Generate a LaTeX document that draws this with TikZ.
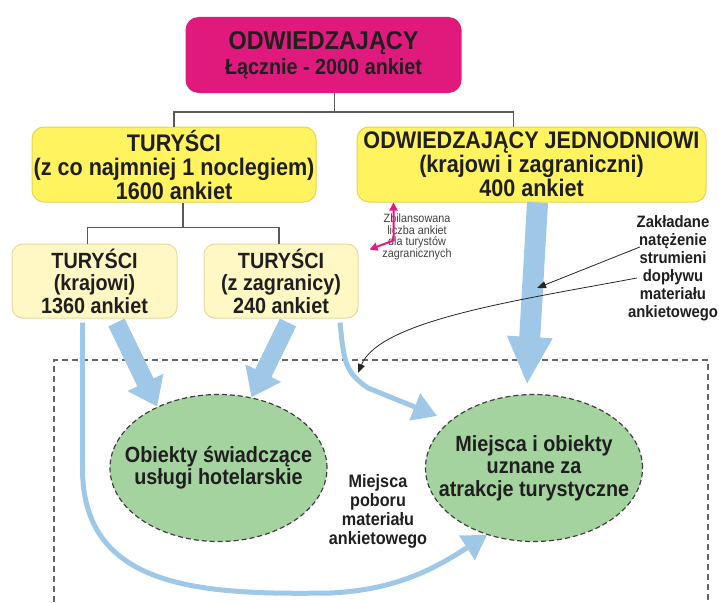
\documentclass[tikz,border=0pt]{standalone}
\usepackage{fontspec}
\setmainfont{Liberation Sans}[FakeStretch=0.9]
\usetikzlibrary{arrows.meta, shapes.geometric}
\definecolor{visitmagenta}{HTML}{DF1A7C}
\definecolor{touryellow}{HTML}{FFF45F}
\definecolor{touredge}{HTML}{E4D650}
\definecolor{paleyellow}{HTML}{FFF7C4}
\definecolor{paleedge}{HTML}{E6DA9E}
\definecolor{placegreen}{HTML}{A5D3A0}
\definecolor{flowblue}{HTML}{9FC8E8}
\definecolor{pointmagenta}{HTML}{E3197F}

\begin{document}
\begin{tikzpicture}[x=1pt, y=-1pt, text=black!88,
        topbox/.style={rectangle, rounded corners=13pt, fill=visitmagenta, minimum width=276pt, minimum height=76pt, inner sep=0pt, align=center, font=\fontsize{26}{25}\selectfont\bfseries},
        bigbox/.style={rectangle, rounded corners=12pt, fill=touryellow, draw=touredge, line width=1pt, minimum width=284pt, minimum height=75pt, inner sep=0pt, align=center, font=\fontsize{24}{24}\selectfont\bfseries},
        smallbox/.style={rectangle, rounded corners=11pt, fill=paleyellow, draw=paleedge, line width=1pt, minimum width=165pt, minimum height=74pt, inner sep=0pt, align=center, font=\fontsize{22}{22.5}\selectfont\bfseries},
        place/.style={ellipse, fill=placegreen, draw=black!75, line width=1.2pt, dash pattern=on 5pt off 3pt, minimum width=217pt, minimum height=147pt, inner xsep=-22pt, inner ysep=0pt, align=center, font=\fontsize{22}{22.5}\selectfont\bfseries},
        note/.style={inner sep=0pt, align=center, font=\fontsize{16.5}{18}\selectfont\bfseries},
        tinynote/.style={inner sep=0pt, align=center, text=black!75, font=\fontsize{12}{11.5}\selectfont},
        tree/.style={draw=black!65, line width=1.5pt},
        frame/.style={draw=black!60, line width=1.2pt, dash pattern=on 6pt off 4pt},
        flow/.style={draw=flowblue, line width=18pt, -{Triangle[width=38pt,length=27pt]}},
        flowbig/.style={draw=flowblue, line width=21pt, -{Triangle[width=42pt,length=48pt]}},
        flowthin/.style={draw=flowblue, line width=5pt, -{Triangle[width=28pt,length=24pt]}},
        pointer/.style={draw=black!85, line width=0.8pt, -{Triangle[width=7pt,length=9pt]}},
        balance/.style={draw=pointmagenta, line width=2pt, {Triangle[width=8pt,length=8pt]}-{Triangle[width=8pt,length=8pt]}}]
        \useasboundingbox (0,0) rectangle (719,602);

        % Survey area
        \draw[frame] (54,602) -- (54,360) -- (708,360) -- (708,602);

        % Visitor groups
        \node[topbox] (visitors) at (323.5,55) {ODWIEDZAJĄCY\\{\fontsize{22}{24}\selectfont Łącznie - 2000 ankiet}};
        \node[bigbox] (tourists) at (174,164.5) {TURYŚCI\\(z co najmniej 1 noclegiem)\\1600 ankiet};
        \node[bigbox, minimum width=349pt] (dayvisitors) at (531.5,164.5) {ODWIEDZAJĄCY JEDNODNIOWI\\(krajowi i zagraniczni)\\400 ankiet};
        \node[smallbox] (domestic) at (94.5,281) {TURYŚCI\\(krajowi)\\1360 ankiet};
        \node[smallbox, minimum width=154pt] (foreign) at (281,281) {TURYŚCI\\(z zagranicy)\\240 ankiet};

        % Places of sampling
        \node[place] (hotels) at (218.5,468) {Obiekty świadczące\\usługi hotelarskie};
        \node[place] (attractions) at (534,468) {Miejsca i obiekty\\uznane za\\atrakcje turystyczne};

        % Annotations
        \node[note, font=\fontsize{18}{19}\selectfont\bfseries] (sampling) at (378,511) {Miejsca\\poboru\\materiału\\ankietowego};
        \node[note] (flowsnote) at (673,268) {Zakładane\\natężenie\\strumieni\\dopływu\\materiału\\ankietowego};
        \node[tinynote] (balancenote) at (417,237) {Zbilansowana\\liczba ankiet\\dla turystów\\zagranicznych};

        % Tree connectors
        \draw[tree] ([xshift=11pt]visitors.south) -- ++(0,19) coordinate (split) -| (tourists.north);
        \draw[tree] (split) -| ([xshift=-18pt]dayvisitors.north);
        \draw[tree] ([xshift=9pt]tourists.south) -- ++(0,25) coordinate (split2) -| ([xshift=-7pt]domestic.north);
        \draw[tree] (split2) -| ([xshift=-2pt]foreign.north);

        % Survey flows
        \draw[flow] ([xshift=22pt,yshift=-4pt]domestic.south) -- (hotels.135);
        \draw[flow] ([xshift=7pt,yshift=-4pt]foreign.south) -- (hotels.65);
        \draw[flowbig] ([xshift=6pt]dayvisitors.south) -- ([xshift=-7pt,yshift=9pt]attractions.north);
        \draw[flowthin] ([xshift=-12pt,yshift=-4pt]domestic.south) -- ++(0,146) .. controls +(0,120) and (200,595) .. (330,593) .. controls (400,590) and (440,565) .. (attractions.235);
        \draw[flowthin] ([xshift=59pt,yshift=-4pt]foreign.south) .. controls +(4,40) and (345,372) .. (368,388) -- ([xshift=-97pt,yshift=52pt]attractions.center);

        % Pointers
        \coordinate (streammark) at (537,288);
        \coordinate (bendmark) at (358,373);
        \draw[pointer] ([xshift=12pt,yshift=21pt]flowsnote.west) -- (streammark);
        \draw[pointer] ([xshift=9pt,yshift=-10pt]flowsnote.west) .. controls (520,300) and (380,320) .. (bendmark);
        \draw[balance] ([xshift=37pt]dayvisitors.south west) -- ++(0,38) coordinate (kink) -- ([xshift=11pt,yshift=-6pt]foreign.north east);
    \end{tikzpicture}
\end{document}
